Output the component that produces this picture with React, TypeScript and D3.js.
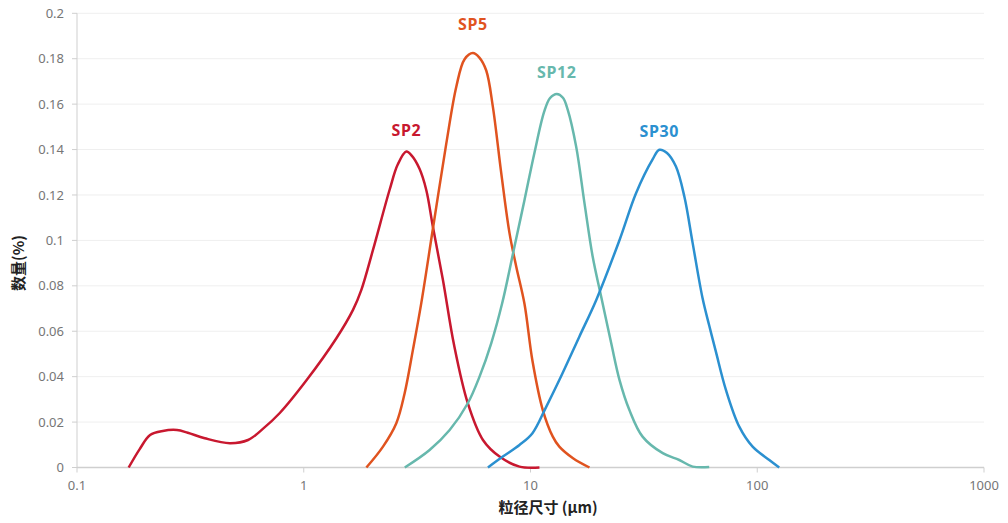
import React from "react";
import * as d3 from "d3";

const yTicks = [0, 0.02, 0.04, 0.06, 0.08, 0.1, 0.12, 0.14, 0.16, 0.18, 0.2];
const xTicks = [0.1, 1, 10, 100, 1000];
const xTickLabels = ["0.1", "1", "10", "100", "1000"];

const sp2Size = [0.169, 0.189, 0.21, 0.239, 0.276, 0.308, 0.366, 0.472, 0.568, 0.66, 0.784, 1.03, 1.393, 1.649, 1.795, 2.02, 2.39, 2.6, 2.834, 3.0, 3.24, 3.47, 3.71, 4.11, 4.6, 5.29, 6.17, 7.3, 8.94, 10.95];
const sp2Val = [0, 0.0081, 0.0143, 0.0161, 0.0165, 0.0153, 0.0129, 0.0107, 0.0121, 0.017, 0.024, 0.0385, 0.0569, 0.0694, 0.0782, 0.0958, 0.1222, 0.1335, 0.1391, 0.1372, 0.1315, 0.1222, 0.1061, 0.0826, 0.054, 0.0283, 0.0121, 0.0048, 0.0004, 0];

const sp5Size = [1.889, 2.236, 2.56, 2.786, 3.03, 3.3, 3.71, 4.25, 4.71, 5.12, 5.57, 5.95, 6.38, 6.82, 7.43, 8.08, 8.65, 9.41, 10.2, 11.33, 12.54, 13.4, 15.4, 18.2];
const sp5Val = [0, 0.0092, 0.0195, 0.0327, 0.0518, 0.0725, 0.105, 0.1425, 0.1678, 0.1798, 0.1825, 0.1805, 0.1748, 0.159, 0.1296, 0.1032, 0.0885, 0.072, 0.047, 0.0253, 0.0136, 0.0092, 0.0041, 0];

const sp12Size = [2.79, 3.59, 4.4, 5.29, 5.96, 6.71, 7.5, 8.5, 9.41, 10.4, 11.5, 12.2, 13.06, 13.9, 14.6, 15.9, 17.3, 18.8, 20.5, 22.7, 24.7, 27.3, 31.2, 38.3, 45.3, 51.9, 61.4];
const sp12Val = [0, 0.0077, 0.0165, 0.0283, 0.04, 0.0547, 0.0723, 0.0973, 0.1178, 0.1384, 0.1568, 0.1627, 0.1645, 0.1628, 0.1575, 0.1413, 0.1164, 0.0929, 0.0752, 0.0547, 0.0385, 0.0253, 0.0136, 0.0063, 0.0033, 0.0004, 0.0002];

const sp30Size = [6.49, 7.55, 8.94, 10.2, 11.7, 13.4, 16.4, 19.5, 24.7, 29.2, 34.6, 37.0, 40.0, 43.8, 47.7, 51.9, 57.4, 61.4, 65.7, 72.8, 83.3, 95.4, 113, 125];
const sp30Val = [0, 0.0048, 0.0099, 0.0151, 0.0265, 0.0385, 0.0575, 0.0738, 0.1002, 0.1208, 0.1358, 0.1399, 0.1385, 0.1325, 0.1193, 0.0988, 0.0745, 0.0625, 0.051, 0.0341, 0.018, 0.0092, 0.0033, 0];

const seriesNames = ["SP2", "SP5", "SP12", "SP30"];
const seriesColors = ["#c8182f", "#e0531f", "#67b8ad", "#2b90d0"];
const seriesSizes = [sp2Size, sp5Size, sp12Size, sp30Size];
const seriesVals = [sp2Val, sp5Val, sp12Val, sp30Val];
const peakSizes = [2.834, 5.57, 13.06, 37.0];
const peakVals = [0.1391, 0.1825, 0.1645, 0.1399];
const labelOffsets = [16, 23, 16, 13];

export default function App() {
  const W = 1008;
  const H = 523;
  const left = 77;
  const right = 984;
  const top = 13.3;
  const bottom = 467.5;
  const x = d3.scaleLog().domain([0.1, 1000]).range([left, right]);
  const y = d3.scaleLinear().domain([0, 0.2]).range([bottom, top]);
  const line = d3
    .line<[number, number]>()
    .x((d) => x(d[0]))
    .y((d) => Math.min(bottom, y(d[1])))
    .curve(d3.curveCatmullRom.alpha(0.5));
  const font = "'Noto Sans', 'Lato', sans-serif";
  return (
    <svg
      width={W}
      height={H}
      style={{ position: "absolute", left: 0, top: 0, background: "#fff" }}
      fontFamily={font}
    >
      {yTicks.map((t) => (
        <g key={"y" + t}>
          {t > 0 && (
            <line x1={left} x2={right} y1={y(t)} y2={y(t)} stroke="#efefef" strokeWidth={1} />
          )}
          <line x1={left - 5} x2={left} y1={y(t)} y2={y(t)} stroke="#cfcfcf" strokeWidth={1} />
          <text x={left - 13} y={y(t)} dy="0.35em" textAnchor="end" fontSize={13} fill="#767676">
            {String(t)}
          </text>
        </g>
      ))}
      <line x1={left} x2={left} y1={top} y2={bottom} stroke="#cfcfcf" strokeWidth={1} />
      <line x1={left} x2={right} y1={bottom} y2={bottom} stroke="#cfcfcf" strokeWidth={1.5} />
      {xTicks.map((t, i) => (
        <g key={"x" + t}>
          <line x1={x(t)} x2={x(t)} y1={bottom} y2={bottom + 5} stroke="#cfcfcf" strokeWidth={1} />
          <text x={x(t)} y={bottom + 22} textAnchor="middle" fontSize={13} fill="#767676">
            {xTickLabels[i]}
          </text>
        </g>
      ))}
      {seriesNames.map((name, i) => {
        const pts: [number, number][] = seriesSizes[i].map((s, j) => [s, seriesVals[i][j]]);
        return (
          <g key={name}>
            <path d={line(pts) || ""} fill="none" stroke={seriesColors[i]} strokeWidth={2.5} />
            <text
              x={x(peakSizes[i])}
              y={y(peakVals[i]) - labelOffsets[i]}
              textAnchor="middle"
              fontSize={16}
              fontWeight="bold"
              letterSpacing={0.6}
              fill={seriesColors[i]}
            >
              {name}
            </text>
          </g>
        );
      })}
      <text
        x={548}
        y={513}
        textAnchor="middle"
        fontSize={15}
        fontWeight="bold"
        fill="#222"
        fontFamily="'Noto Sans CJK SC', 'Noto Sans', sans-serif"
      >
        粒径尺寸 (μm)
      </text>
      <text
        transform={`translate(24, 263) rotate(-90)`}
        textAnchor="middle"
        fontSize={15}
        fontWeight="bold"
        fill="#222"
        fontFamily="'Noto Sans CJK SC', 'Noto Sans', sans-serif"
      >
        数量(%)
      </text>
    </svg>
  );
}
